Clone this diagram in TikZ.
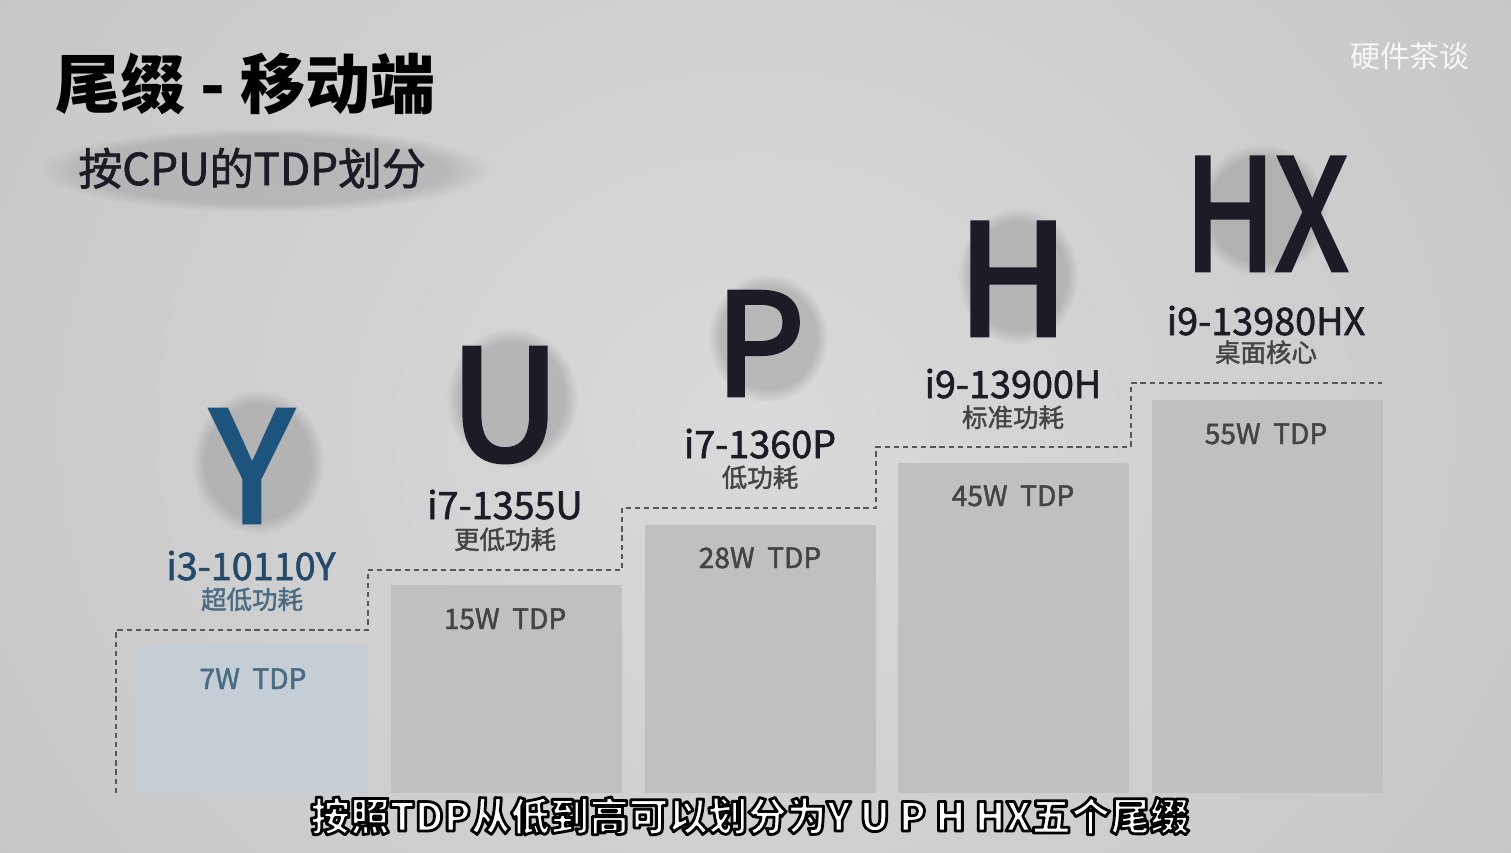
\documentclass[tikz,border=0pt]{standalone}
\usepackage{fontspec}
\setmainfont{Noto Sans CJK SC}
\newfontfamily\ltrfont{Noto Sans CJK SC}[RawFeature={embolden=3.2}]
\newfontfamily\midfont{Noto Sans CJK SC}[RawFeature={embolden=1.6}]
\usepackage{xcolor}
\usetikzlibrary{fadings}
\definecolor{sfx@bg}{RGB}{218, 218, 218}
\definecolor{sfx@bgedge}{RGB}{196, 196, 196}
\definecolor{sfx@bar}{RGB}{192, 192, 192}
\definecolor{sfx@ybar}{RGB}{197, 206, 213}
\definecolor{sfx@ink}{RGB}{28, 28, 38}
\definecolor{sfx@gray}{RGB}{68, 68, 68}
\definecolor{sfx@blue}{RGB}{28, 84, 126}
\definecolor{sfx@midblue}{RGB}{35, 74, 106}
\definecolor{sfx@softblue}{RGB}{72, 108, 132}
\definecolor{sfx@smudge}{RGB}{140, 140, 140}
\definecolor{sfx@dash}{RGB}{88, 88, 88}
% white glyphs with a black stroke
\newcommand\outlined[1]{\textcolor{white}{\special{pdf:literal direct 2 Tr 1.6 w 0 G 1 j}#1\special{pdf:literal direct 0 Tr}}}

\begin{document}
\begin{tikzpicture}[
  x=0.02cm, y=-0.02cm,
  bigltr/.style = {anchor=base, inner sep=0pt, text=sfx@ink,
                   font=\fontsize{87}{87}\selectfont\ltrfont},
  model/.style  = {anchor=base, inner sep=0pt, text=sfx@ink,
                   font=\fontsize{21.5}{22}\selectfont\midfont},
  tier/.style   = {anchor=base, inner sep=0pt, text=sfx@gray,
                   font=\fontsize{14.5}{15}\selectfont\midfont},
  tdp/.style    = {anchor=base, inner sep=0pt, text=sfx@gray,
                   font=\fontsize{16}{16}\selectfont\midfont},
  bar/.style    = {fill=sfx@bar},
  smudge/.style = {fill=sfx@smudge, opacity=0.42,
                   path fading=circle with fuzzy edge 20 percent},
  stepline/.style = {draw=sfx@dash, dash pattern=on 3pt off 2.2pt, line width=0.8pt},
]
  \useasboundingbox (0,0) rectangle (1511,852);
  \shade[inner color=sfx@bg, outer color=sfx@bgedge] (-300,-500) rectangle (1811,1352);

  % title
  \fill[smudge, opacity=0.35] (40,128) rectangle (490,212);
  \node[anchor=base west, inner sep=0pt, text=black,
        font=\fontsize{37}{37}\selectfont\bfseries] (title) at (55,108) {尾缀 - 移动端};
  \node[anchor=base west, inner sep=0pt, text=sfx@ink,
        font=\fontsize{25}{25}\selectfont\midfont] (subtitle) at (78,185) {按CPU的TDP划分};
  \node[anchor=base east, inner sep=0pt, text=white, opacity=0.85,
        font=\fontsize{17}{17}\selectfont] (mark) at (1470,67) {硬件茶谈};

  % bars
  \fill[sfx@ybar] (137,645) rectangle (368,793);
  \fill[bar]      (391,585) rectangle (622,793);
  \fill[bar]      (645,525) rectangle (876,793);
  \fill[bar]      (898,463) rectangle (1129,793);
  \fill[bar]      (1152,400) rectangle (1383,793);

  \draw[stepline] (116,793) |- (368,630) |- (622,570) |- (876,508) |- (1131,447) |- (1382,383);

  \node[tdp, text=sfx@softblue] (ytdp)  at (253,689)  {7W\ \ TDP};
  \node[tdp] (utdp)  at (505,629)  {15W\ \ TDP};
  \node[tdp] (ptdp)  at (760,568)  {28W\ \ TDP};
  \node[tdp] (htdp)  at (1013,506) {45W\ \ TDP};
  \node[tdp] (hxtdp) at (1266,444) {55W\ \ TDP};

  % suffix letters
  \fill[smudge] (258,462) ellipse [x radius=66, y radius=72];
  \fill[smudge] (512,398) ellipse [x radius=66, y radius=70];
  \fill[smudge] (768,338) ellipse [x radius=60, y radius=64];
  \fill[smudge] (1018,276) ellipse [x radius=60, y radius=68];
  \fill[smudge] (1262,210) ellipse [x radius=66, y radius=66];

  \node[bigltr, text=sfx@blue] (y)  at (252,522)  {Y};
  \node[bigltr] (u)  at (505,460)  {U};
  \node[bigltr, font=\fontsize{80}{80}\selectfont\ltrfont] (p)  at (760,395) {P};
  \node[bigltr] (h)  at (1013,335) {H};
  \node[bigltr] (hx) at (1266,270) {\scalebox{0.82}[1]{HX}};

  % models
  \node[model, text=sfx@midblue] (ymod) at (251,580)  {i3-10110Y};
  \node[tier, text=sfx@softblue] (ytier) at (252,609) {超低功耗};
  \node[model] (umod)  at (505,519)  {i7-1355U};
  \node[tier]  (utier) at (505,549)  {更低功耗};
  \node[model] (pmod)  at (760,458)  {i7-1360P};
  \node[tier]  (ptier) at (760,487)  {低功耗};
  \node[model] (hmod)  at (1013,398) {i9-13900H};
  \node[tier]  (htier) at (1013,427) {标准功耗};
  \node[model] (hxmod) at (1266,335) {i9-13980HX};
  \node[tier]  (hxtier) at (1266,362) {桌面核心};

  % caption
  \node[anchor=base, inner sep=0pt, font=\fontsize{22.5}{23}\selectfont\bfseries] (caption)
    at (750,831) {\outlined{按照TDP从低到高可以划分为Y U P H HX五个尾缀}};
\end{tikzpicture}
\end{document}
